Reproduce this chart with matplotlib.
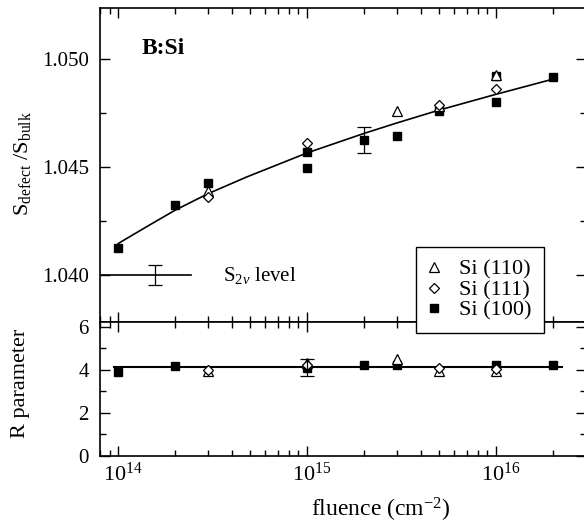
import numpy as np
import matplotlib
matplotlib.use("Agg")
import matplotlib.pyplot as plt
from matplotlib.ticker import LogLocator, MultipleLocator, NullFormatter
from matplotlib.lines import Line2D
from matplotlib.transforms import ScaledTranslation

plt.rcParams["font.family"] = ["Liberation Serif", "DejaVu Serif"]
plt.rcParams["mathtext.fontset"] = "custom"
plt.rcParams["mathtext.rm"] = "Liberation Serif"
plt.rcParams["mathtext.it"] = "Liberation Serif:italic"
plt.rcParams["mathtext.bf"] = "Liberation Serif:bold"
FS = 15

# --- S_defect/S_bulk (top panel) ---
s100_x = [1e14, 2e14, 3e14, 1e15, 1e15, 2e15, 3e15, 5e15, 1e16, 1e16, 2e16]
s100_y = [1.04124, 1.04327, 1.04429, 1.04571, 1.04497, 1.04624, 1.04645,
          1.04762, 1.04921, 1.04800, 1.04915]
s110_x = [3e14, 3e15, 5e15, 1e16]
s110_y = [1.04389, 1.04759, 1.04785, 1.04925]
s111_x = [3e14, 1e15, 5e15, 1e16]
s111_y = [1.04363, 1.04610, 1.04787, 1.04861]
s_err_x, s_err_y, s_err = [2e15], [1.04624], [0.0006]
# fitted curve
fit_x = [1e14, 1.41e14, 2e14, 3e14, 4.8e14, 1e15, 2e15, 3e15, 5e15, 1e16, 2e16]
fit_y = [1.04147, 1.04224, 1.04301, 1.04378, 1.04455, 1.04566, 1.04656,
         1.04705, 1.04764, 1.04837, 1.04907]
# S2v level
s2v_line_x = [8.05e13, 2.42e14]
s2v_y = 1.040
s2v_err_x, s2v_err = 1.57e14, 0.00047

# --- R parameter (bottom panel) ---
r100_x = [1e14, 2e14, 1e15, 2e15, 3e15, 1e16, 2e16]
r100_y = [3.9, 4.17, 4.1, 4.22, 4.22, 4.22, 4.2]
r110_x = [3e14, 1e15, 3e15, 5e15, 1e16]
r110_y = [3.95, 4.3, 4.51, 3.95, 3.95]
r111_x = [3e14, 1e15, 5e15, 1e16]
r111_y = [4.0, 4.2, 4.08, 4.05]
r_err_x, r_err_y, r_err = [1e15], [4.1], [0.38]
rfit_x = [9.5e13, 2.25e16]
rfit_y = [4.11, 4.11]

W, H = 584, 523
fig = plt.figure(figsize=(W / 100, H / 100), dpi=100)
left, right = 100 / W, 586 / W
ax1 = fig.add_axes([left, 1 - 321.7 / H, right - left, 313.4 / H])
ax2 = fig.add_axes([left, 1 - 455.7 / H, right - left, 134 / H])

mk = dict(linestyle="none", color="black")
tri = dict(marker="^", markersize=6.5, markerfacecolor="white", markeredgewidth=0.9, **mk)
dia = dict(marker="D", markersize=5, markerfacecolor="white", markeredgewidth=0.9, **mk)
sq = dict(marker="s", markersize=5.8, markerfacecolor="black", **mk)

# top panel
ax1.plot(fit_x, fit_y, color="black", lw=1.2)
ax1.plot(s100_x, s100_y, **sq)
ax1.plot(s110_x, s110_y, **tri)
ax1.plot(s111_x, s111_y, **dia)
ax1.errorbar(s_err_x, s_err_y, yerr=s_err, fmt="none", ecolor="black",
             elinewidth=0.9, capsize=5, capthick=0.9)
ax1.plot(s2v_line_x, [s2v_y, s2v_y], color="black", lw=1.2)
ax1.errorbar([s2v_err_x], [s2v_y], yerr=[s2v_err], fmt="none", ecolor="black",
             elinewidth=0.9, capsize=5, capthick=0.9)
ax1.text(3.58e14, s2v_y, r"S$_{2v}$ level", fontsize=FS, va="center", ha="left")
ax1.text(0.085, 0.872, "B:Si", transform=ax1.transAxes, fontsize=17,
         fontweight="bold", va="center", ha="left")

# bottom panel
ax2.plot(rfit_x, rfit_y, color="black", lw=1.5)
ax2.plot(r100_x, r100_y, **sq)
ax2.plot(r110_x, r110_y, **tri)
ax2.plot(r111_x, r111_y, **dia)
ax2.errorbar(r_err_x, r_err_y, yerr=r_err, fmt="none", ecolor="black",
             elinewidth=0.9, capsize=5, capthick=0.9)

for ax in (ax1, ax2):
    ax.set_xscale("log")
    ax.set_xlim(8e13, 3e16)
    ax.xaxis.set_major_locator(LogLocator(base=10, numticks=10))
    ax.xaxis.set_minor_locator(LogLocator(base=10, subs=np.arange(2, 10), numticks=10))
    ax.xaxis.set_minor_formatter(NullFormatter())
    ax.tick_params(which="both", direction="in", top=True, right=True,
                   labelsize=FS, width=1.0)
    ax.tick_params(axis="y", pad=8)
    ax.tick_params(which="major", length=7)
    ax.tick_params(which="minor", length=4)
    for sp in ax.spines.values():
        sp.set_linewidth(1.2)

ax1.set_ylim(1.03785, 1.05235)
ax1.yaxis.set_minor_locator(MultipleLocator(0.0025))
ax1.set_yticks([1.040, 1.045, 1.050])
ax1.set_yticklabels(["1.040", "1.045", "1.050"])
ax1.tick_params(labelbottom=False)
ax1.set_ylabel(r"S$_\mathrm{defect}$ /S$_\mathrm{bulk}$", fontsize=16)
ax1.yaxis.set_label_coords(-0.138, 0.506)

ax2.set_ylim(0, 6.23)
ax2.yaxis.set_major_locator(MultipleLocator(2))
ax2.yaxis.set_minor_locator(MultipleLocator(1))
ax2.tick_params(axis="x", labelsize=16, pad=5)
ax2.set_ylabel("R parameter", fontsize=16)
ax2.yaxis.set_label_coords(-0.145, 0.543)
ax2.set_xlabel(r"fluence (cm$^{-2}$)", fontsize=17)
ax2.xaxis.set_label_coords(0.578, -0.30)
shift = ScaledTranslation(5 / 100, 0, fig.dpi_scale_trans)
for lab in ax2.get_xticklabels():
    lab.set_transform(lab.get_transform() + shift)

handles = [Line2D([], [], **tri), Line2D([], [], **dia), Line2D([], [], **sq)]
fig.legend(handles, ["Si (110)", "Si (111)", "Si (100)"], loc="upper left",
           bbox_to_anchor=(416 / W, 1 - 247 / H), borderaxespad=0, fontsize=16,
           frameon=True, fancybox=False, edgecolor="black", framealpha=1,
           handlelength=0.5, handletextpad=0.9, labelspacing=0.0, borderpad=0.55)

fig.savefig("out.png", dpi=100)
